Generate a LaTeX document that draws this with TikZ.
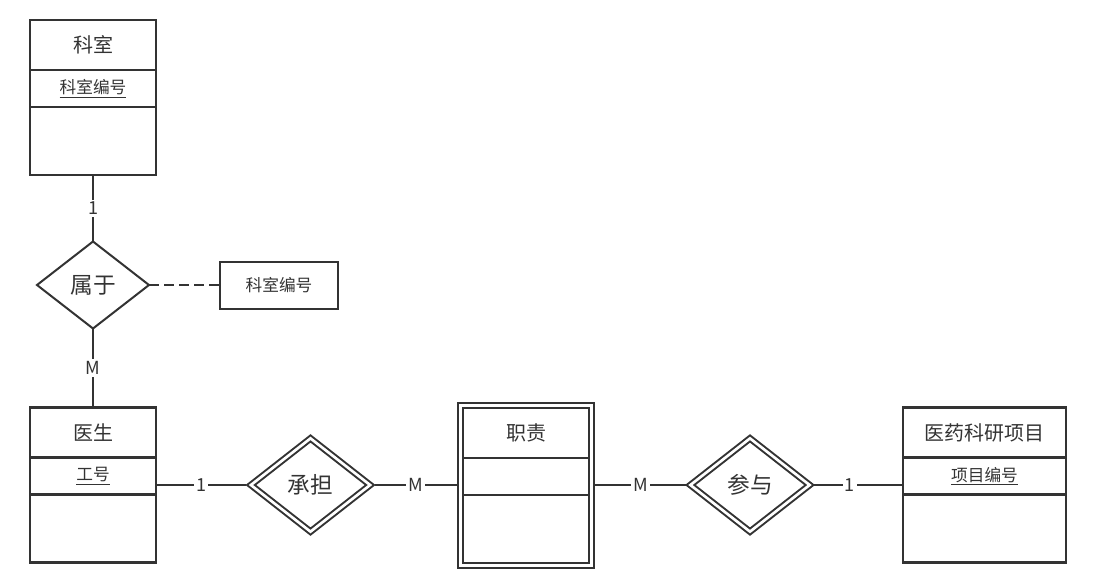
\documentclass[tikz,border=0pt]{standalone}
\usepackage{fontspec}
\setmainfont{Noto Sans CJK SC}
\usepackage{tikz}
\usetikzlibrary{shapes.geometric,positioning}
\usepackage{xcolor}
\definecolor{ink}{HTML}{333333}

\begin{document}
\begin{tikzpicture}[x=0.75pt, y=-0.75pt, font=\fontsize{15}{18}\selectfont, color=ink]
\tikzset{
  entity/.style={rectangle, draw=ink, line width=2pt, minimum width=94.5pt, minimum height=116.25pt, inner sep=0pt, outer sep=0pt},
  weak/.style={rectangle, draw=ink, line width=1.5pt, double=white, double distance=2.25pt, minimum width=98.6pt, minimum height=120pt, inner sep=0pt, outer sep=2.625pt},
  etitle/.style={minimum height=37.5pt, inner sep=0pt, outer sep=0pt},
  eattr/.style={minimum height=27.75pt, inner sep=0pt, outer sep=0pt, font=\fontsize{12.5}{15}\selectfont},
  divider/.style={draw=ink, line width=2pt},
  rel/.style={diamond, draw=ink, line width=1.5pt, minimum width=84pt, minimum height=65.25pt, inner sep=0pt, outer sep=0pt, font=\fontsize{17}{20}\selectfont},
  wrel/.style={rel, double=white, double distance=2pt, minimum width=91.5pt, minimum height=72pt, outer sep=2.5pt},
  attr/.style={rectangle, draw=ink, line width=1.5pt, minimum width=88.5pt, minimum height=35.25pt, font=\fontsize{12.5}{15}\selectfont},
  lnk/.style={draw=ink, line width=1.5pt},
  dashlnk/.style={lnk, dash pattern=on 7.5pt off 3.75pt},
  card/.style={fill=white, inner sep=1.5pt, font=\fontsize{13.5}{16}\selectfont},
}
\useasboundingbox (0,0) rectangle (1096,583);

% 科室
\node[entity] (keshi) at (93,97.5) {};
\node[etitle, below=0pt of keshi.north] (keshi-t) {科室};
\node[eattr, below=0pt of keshi-t] (keshi-a) {\underline{科室编号}};
\draw[divider] (keshi.west |- keshi-t.south) -- (keshi.east |- keshi-t.south);
\draw[divider] (keshi.west |- keshi-a.south) -- (keshi.east |- keshi-a.south);

% 属于
\node[rel] (shuyu) at (93,285) {属于};
\node[attr] (ksbh) at (279,285) {科室编号};

% 医生
\node[entity] (yisheng) at (93,485) {};
\node[etitle, below=0pt of yisheng.north] (yisheng-t) {医生};
\node[eattr, below=0pt of yisheng-t] (yisheng-a) {\underline{工号}};
\draw[divider] (yisheng.west |- yisheng-t.south) -- (yisheng.east |- yisheng-t.south);
\draw[divider] (yisheng.west |- yisheng-a.south) -- (yisheng.east |- yisheng-a.south);

% 承担
\node[wrel] (chengdan) at (310.5,485) {承担};

% 职责
\node[weak] (zhize) at (526,485) {};
\node[etitle, below=4.5pt of zhize.north] (zhize-t) {职责};
\node[eattr, below=0pt of zhize-t] (zhize-a) {};
\draw[divider, line width=1.5pt] ([xshift=4.5pt]zhize.west |- zhize-t.south) -- ([xshift=-4.5pt]zhize.east |- zhize-t.south);
\draw[divider, line width=1.5pt] ([xshift=4.5pt]zhize.west |- zhize-a.south) -- ([xshift=-4.5pt]zhize.east |- zhize-a.south);

% 参与
\node[wrel] (canyu) at (750,485) {参与};

% 医药科研项目
\node[entity, minimum width=122.25pt] (xiangmu) at (984.5,485) {};
\node[etitle, below=0pt of xiangmu.north] (xiangmu-t) {医药科研项目};
\node[eattr, below=0pt of xiangmu-t] (xiangmu-a) {\underline{项目编号}};
\draw[divider] (xiangmu.west |- xiangmu-t.south) -- (xiangmu.east |- xiangmu-t.south);
\draw[divider] (xiangmu.west |- xiangmu-a.south) -- (xiangmu.east |- xiangmu-a.south);

\draw[lnk] (keshi) -- node[card] {1} (shuyu);
\draw[lnk] (shuyu) -- node[card] {M} (yisheng);
\draw[dashlnk] (shuyu) -- (ksbh);
\draw[lnk] (yisheng) -- node[card] {1} (chengdan);
\draw[lnk] (chengdan) -- node[card] {M} (zhize);
\draw[lnk] (zhize) -- node[card] {M} (canyu);
\draw[lnk] (canyu) -- node[card, pos=0.4] {1} (xiangmu);
\end{tikzpicture}
\end{document}
